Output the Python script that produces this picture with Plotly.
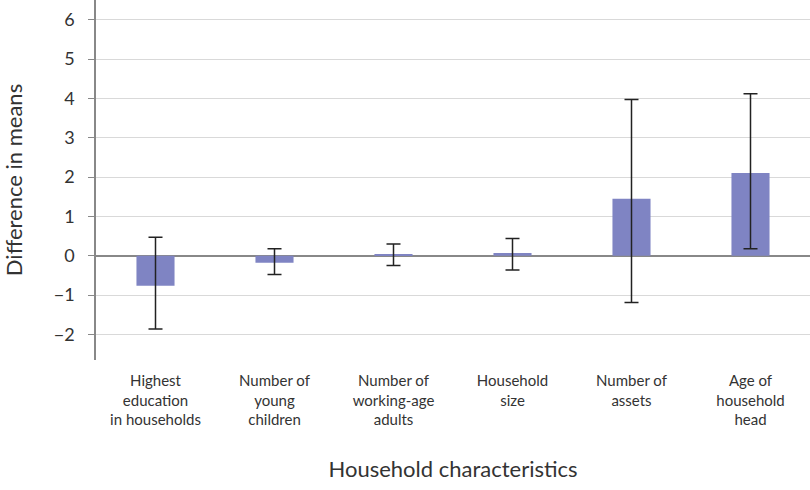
import plotly.graph_objects as go

# Household characteristics (x categories)
categories = [
    "Highest<br>education<br>in households",
    "Number of<br>young<br>children",
    "Number of<br>working-age<br>adults",
    "Household<br>size",
    "Number of<br>assets",
    "Age of<br>household<br>head",
]

# Difference in means and confidence interval bounds
diff_means = [-0.76, -0.18, 0.02, 0.07, 1.45, 2.1]
ci_upper = [0.47, 0.18, 0.30, 0.44, 3.97, 4.12]
ci_lower = [-1.86, -0.48, -0.25, -0.36, -1.19, 0.18]

y_ticks = [-2, -1, 0, 1, 2, 3, 4, 5, 6]
y_ticktext = ["\u22122", "\u22121", "0", "1", "2", "3", "4", "5", "6"]

err_plus = [u - d for u, d in zip(ci_upper, diff_means)]
err_minus = [d - l for d, l in zip(diff_means, ci_lower)]

fig = go.Figure()
fig.add_trace(go.Bar(
    x=categories, y=diff_means,
    marker=dict(color="#7f84c3", line=dict(width=0)),
    error_y=dict(type="data", symmetric=False, array=err_plus, arrayminus=err_minus,
                 color="#222222", thickness=1.5, width=7),
    showlegend=False,
))

fig.update_layout(
    width=810, height=490,
    margin=dict(l=96, r=0, t=0, b=130),
    paper_bgcolor="white", plot_bgcolor="white",
    font=dict(family="Lato", color="#333333"),
    bargap=0.68,
)
fig.update_yaxes(
    automargin=False,
    range=[-2.65, 6.5], tickvals=y_ticks, ticktext=y_ticktext,
    showgrid=True, gridcolor="#d9d9d9", gridwidth=1,
    zeroline=True, zerolinecolor="#888888", zerolinewidth=1.5,
    showline=True, linecolor="#888888", linewidth=1.5,
    ticks="outside", ticklen=6, tickcolor="#888888",
    ticklabelstandoff=10,
    tickfont=dict(size=18),
    title=dict(text="Difference in means", font=dict(size=22), standoff=33),
)
fig.update_xaxes(
    automargin=False,
    showline=False, showgrid=False, ticks="",
    ticklabelstandoff=10,
    tickfont=dict(size=15),
    title=dict(text="Household characteristics", font=dict(size=22), standoff=34),
)

# drop the page's default body margin so the figure sits at the window corner
fig.write_html("out.html", config={"displayModeBar": False},
               post_script="document.body.style.margin='0';")
